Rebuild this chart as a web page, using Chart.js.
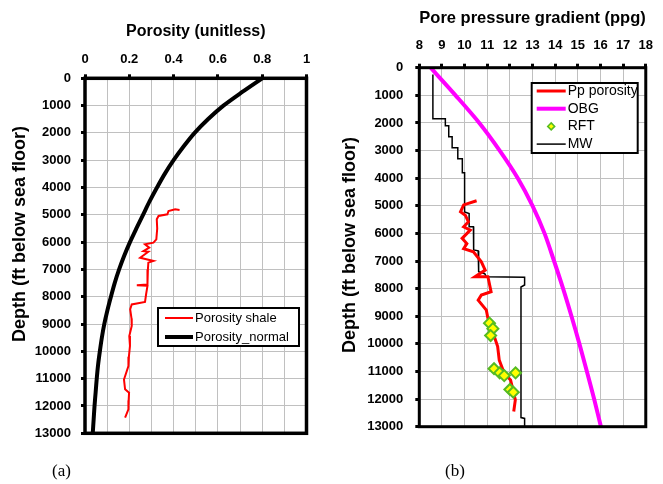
<!DOCTYPE html>
<html>
<head>
<meta charset="utf-8">
<script src="https://cdn.jsdelivr.net/npm/chart.js@4.4.1/dist/chart.umd.min.js"></script>
<style>
  body { margin: 0; background: #fff; width: 663px; height: 484px; position: relative; overflow: hidden; }
  canvas { position: absolute; top: 0; }
  #left { left: 0; }
  #right { left: 330px; }
  .cap { position: absolute; font-family: 'Liberation Serif', 'Times New Roman', serif; font-size: 17px; line-height: 1; color: #000; }
</style>
</head>
<body>
<canvas id="left" width="330" height="484"></canvas>
<canvas id="right" width="333" height="484"></canvas>
<div class="cap" style="left:52px; top:462px;">(a)</div>
<div class="cap" style="left:445px; top:462px;">(b)</div>
<script>
// ---- (a) porosity vs depth ----
const normDepth = [0, 500, 1000, 1500, 2000, 2500, 3000, 3500, 4000, 4500, 5000, 5500, 6000, 6500,
  7000, 7500, 8000, 8500, 9000, 9500, 10000, 10500, 11000, 11500, 12000, 12500, 13000]
const normPhi = [0.80, 0.71, 0.625, 0.555, 0.495, 0.445, 0.40, 0.36, 0.325, 0.292, 0.262, 0.232, 0.203, 0.177,
  0.154, 0.134, 0.117, 0.101, 0.087, 0.076, 0.067, 0.059, 0.053, 0.048, 0.043, 0.039, 0.035]

const shaleDepth = [4820, 4800, 4860, 4980, 5040, 5160, 5500, 5900, 6020, 6080, 6200, 6330, 6350, 6570,
  6690, 6750, 7000, 7550, 7580, 7600, 7900, 8190, 8280, 8460, 8800, 9070, 9440, 9800, 10200, 10540,
  11030, 11390, 11510, 11800, 12120, 12430]
const shalePhi = [0.427, 0.407, 0.377, 0.372, 0.332, 0.324, 0.326, 0.322, 0.309, 0.271, 0.29, 0.264, 0.286, 0.249,
  0.309, 0.286, 0.284, 0.282, 0.234, 0.282, 0.276, 0.271, 0.211, 0.204, 0.21, 0.211, 0.2, 0.203, 0.198, 0.196,
  0.176, 0.181, 0.199, 0.197, 0.196, 0.181]

// ---- (b) pore pressure gradient vs depth ----
const ppDepth = [4820, 4930, 4970, 5220, 5340, 5580, 5760, 5880, 6180, 6370, 6550, 6670, 7030, 7330,
  7570, 7570, 8110, 8230, 8420, 8780, 9080, 9560, 10100, 10590, 11070, 11310, 12030, 12450]
const ppPpg = [10.53, 10.1, 9.96, 9.82, 10.03, 10.17, 9.96, 10.25, 9.89, 10.1, 9.96, 10.39, 10.74, 10.91,
  10.46, 11.03, 11.17, 10.74, 10.6, 10.96, 11.03, 11.24, 11.46, 11.53, 11.75, 12.03, 12.24, 12.17]

const obgDepth = [0, 1000, 2000, 3000, 4000, 5000, 6000, 7000, 8000, 9000, 10000, 11000, 12000, 13000]
const obgPpg = [8.5, 9.6, 10.65, 11.55, 12.35, 13.0, 13.53, 13.95, 14.35, 14.72, 15.07, 15.4, 15.72, 16.02]

const rftDepth = [9250, 9450, 9700, 10900, 11050, 11150, 11050, 11650, 11750]
const rftPpg = [11.1, 11.25, 11.15, 11.3, 11.55, 11.75, 12.25, 12.0, 12.15]

const mwDepth = [250, 1850, 1850, 2100, 2100, 2500, 2500, 2900, 2900, 3300, 3300, 3800, 3800, 5220, 5280,
  5760, 5760, 6600, 6630, 7390, 7460, 7570, 7590, 7870, 7940, 12670, 12700, 13000]
const mwPpg = [8.6, 8.6, 9.15, 9.15, 9.3, 9.3, 9.45, 9.45, 9.7, 9.7, 9.9, 9.9, 10.0, 10.0, 10.2,
  10.2, 10.39, 10.4, 10.6, 10.62, 10.89, 10.96, 12.65, 12.65, 12.49, 12.49, 12.65, 12.65]

const FONT = "'Liberation Sans', Arial, sans-serif"
Chart.defaults.font.family = FONT
Chart.defaults.color = '#000'

const pts = (xs, ys) => xs.map((x, i) => ({x: x, y: ys[i]}))

// plot frame drawn over the data
const frame = {
  id: 'frame',
  afterDatasetsDraw(chart, args, opts) {
    const {ctx, chartArea: a} = chart
    ctx.save()
    ctx.lineWidth = opts.width || 3
    ctx.strokeStyle = '#000'
    ctx.strokeRect(a.left, a.top, a.right - a.left, a.bottom - a.top)
    ctx.restore()
  }
}

// rotated y title at a given spot
const yTitle = {
  id: 'yTitle',
  afterDraw(chart, args, opts) {
    const ctx = chart.ctx
    ctx.save()
    ctx.translate(opts.x, opts.y)
    ctx.rotate(-Math.PI / 2)
    ctx.font = 'bold ' + opts.size + 'px ' + FONT
    ctx.fillStyle = '#000'
    ctx.textAlign = 'center'
    ctx.textBaseline = 'middle'
    ctx.fillText(opts.text, 0, 0)
    ctx.restore()
  }
}

// boxed legend inside the plot
const boxLegend = {
  id: 'boxLegend',
  afterDraw(chart, args, o) {
    const ctx = chart.ctx
    ctx.save()
    ctx.fillStyle = '#fff'
    ctx.fillRect(o.x, o.y, o.w, o.h)
    ctx.lineWidth = 2
    ctx.strokeStyle = '#000'
    ctx.strokeRect(o.x, o.y, o.w, o.h)
    ctx.font = o.size + 'px ' + FONT
    ctx.textBaseline = 'middle'
    chart.data.datasets.forEach((ds, i) => {
      const cy = o.y + o.first + i * o.gap
      if (ds.showLine) {
        ctx.strokeStyle = ds.borderColor
        ctx.lineWidth = ds.borderWidth
        ctx.beginPath()
        ctx.moveTo(o.x + o.l0, cy)
        ctx.lineTo(o.x + o.l1, cy)
        ctx.stroke()
      } else {
        const cx = o.x + (o.l0 + o.l1) / 2, r = 3.5
        ctx.fillStyle = ds.pointBackgroundColor
        ctx.strokeStyle = ds.pointBorderColor
        ctx.lineWidth = 1.5
        ctx.beginPath()
        ctx.moveTo(cx, cy - r); ctx.lineTo(cx + r, cy); ctx.lineTo(cx, cy + r); ctx.lineTo(cx - r, cy)
        ctx.closePath()
        ctx.fill(); ctx.stroke()
      }
      ctx.fillStyle = '#000'
      ctx.fillText(ds.label, o.x + o.tx, cy)
    })
    ctx.restore()
  }
}

const gridColor = '#c0c0c0'

// Create chart (a)
new Chart(document.getElementById('left'), {
  type: 'scatter',
  data: {
    datasets: [{
      label: 'Porosity shale',
      data: pts(shalePhi, shaleDepth),
      showLine: true,
      borderColor: '#ff0000',
      borderWidth: 2,
      pointRadius: 0
    }, {
      label: 'Porosity_normal',
      data: pts(normPhi, normDepth),
      showLine: true,
      borderColor: '#000',
      borderWidth: 4,
      pointRadius: 0,
      tension: 0.3
    }]
  },
  options: {
    responsive: false,
    animation: false,
    layout: {padding: {left: 0, right: 23.5, top: 0, bottom: 50.7}},
    plugins: {
      legend: {display: false},
      tooltip: {enabled: false},
      frame: {width: 3.5},
      yTitle: {text: 'Depth (ft below sea floor)', x: 20, y: 234, size: 18},
      boxLegend: {x: 158, y: 308, w: 141, h: 38, first: 10, gap: 19, l0: 7, l1: 35, tx: 37, size: 13}
    },
    scales: {
      x: {
        type: 'linear', position: 'top', min: 0, max: 1,
        ticks: {
          stepSize: 0.1, autoSkip: false, maxRotation: 0, padding: 7,
          font: {size: 13, weight: 'bold'},
          callback: (v, i) => (i % 2 ? '' : String(+v.toFixed(1)))
        },
        grid: {
          color: gridColor, lineWidth: 1, tickLength: 4, tickWidth: 3,
          tickColor: c => (c.index % 2 ? 'rgba(0,0,0,0)' : '#000')
        },
        border: {display: false},
        title: {display: true, text: 'Porosity (unitless)', font: {size: 16, weight: 'bold'}, padding: {top: 22, bottom: 0}},
        afterFit: s => { s.height = 78.3 }
      },
      y: {
        type: 'linear', reverse: true, min: 0, max: 13000,
        ticks: {stepSize: 1000, padding: 10, font: {size: 13, weight: 'bold'}, callback: v => String(v)},
        grid: {color: gridColor, lineWidth: 1, tickLength: 4, tickWidth: 3, tickColor: '#000'},
        border: {display: false},
        afterFit: s => { s.width = 85 }
      }
    }
  },
  plugins: [frame, yTitle, boxLegend]
})

// Create chart (b)
new Chart(document.getElementById('right'), {
  type: 'scatter',
  data: {
    datasets: [{
      label: 'Pp porosity',
      data: pts(ppPpg, ppDepth),
      showLine: true,
      borderColor: '#ff0000',
      borderWidth: 3,
      pointRadius: 0,
      order: 1
    }, {
      label: 'OBG',
      data: pts(obgPpg, obgDepth),
      showLine: true,
      borderColor: '#ff00ff',
      borderWidth: 4,
      pointRadius: 0,
      tension: 0.3,
      order: 3
    }, {
      label: 'RFT',
      data: pts(rftPpg, rftDepth),
      showLine: false,
      pointStyle: 'rectRot',
      pointRadius: 5.5,
      pointBorderWidth: 2,
      pointBackgroundColor: '#ffff00',
      pointBorderColor: '#55bb22',
      order: 0
    }, {
      label: 'MW',
      data: pts(mwPpg, mwDepth),
      showLine: true,
      borderColor: '#000',
      borderWidth: 1.5,
      pointRadius: 0,
      order: 2
    }]
  },
  options: {
    responsive: false,
    animation: false,
    layout: {padding: {left: 0, right: 10.4, top: 0, bottom: 57.3}},
    plugins: {
      legend: {display: false},
      tooltip: {enabled: false},
      frame: {width: 3},
      yTitle: {text: 'Depth (ft below sea floor)', x: 20, y: 245, size: 18},
      boxLegend: {x: 201.7, y: 83, w: 106, h: 70, first: 8, gap: 17.7, l0: 5, l1: 34, tx: 36, size: 14}
    },
    scales: {
      x: {
        type: 'linear', position: 'top', min: 8, max: 18,
        ticks: {stepSize: 1, autoSkip: false, maxRotation: 0, padding: 10, font: {size: 13, weight: 'bold'}},
        grid: {color: gridColor, lineWidth: 1, tickLength: 4, tickWidth: 3, tickColor: '#000'},
        border: {display: false},
        title: {display: true, text: 'Pore pressure gradient (ppg)', font: {size: 17, weight: 'bold'}, padding: {top: 8, bottom: 0}},
        afterFit: s => { s.height = 67.7 }
      },
      y: {
        type: 'linear', reverse: true, min: 0, max: 13000,
        ticks: {stepSize: 1000, padding: 12, font: {size: 13, weight: 'bold'}, callback: v => String(v)},
        grid: {color: gridColor, lineWidth: 1, tickLength: 4, tickWidth: 3, tickColor: '#000'},
        border: {display: false},
        afterFit: s => { s.width = 89.3 }
      }
    }
  },
  plugins: [frame, yTitle, boxLegend]
})
</script>
</body>
</html>
